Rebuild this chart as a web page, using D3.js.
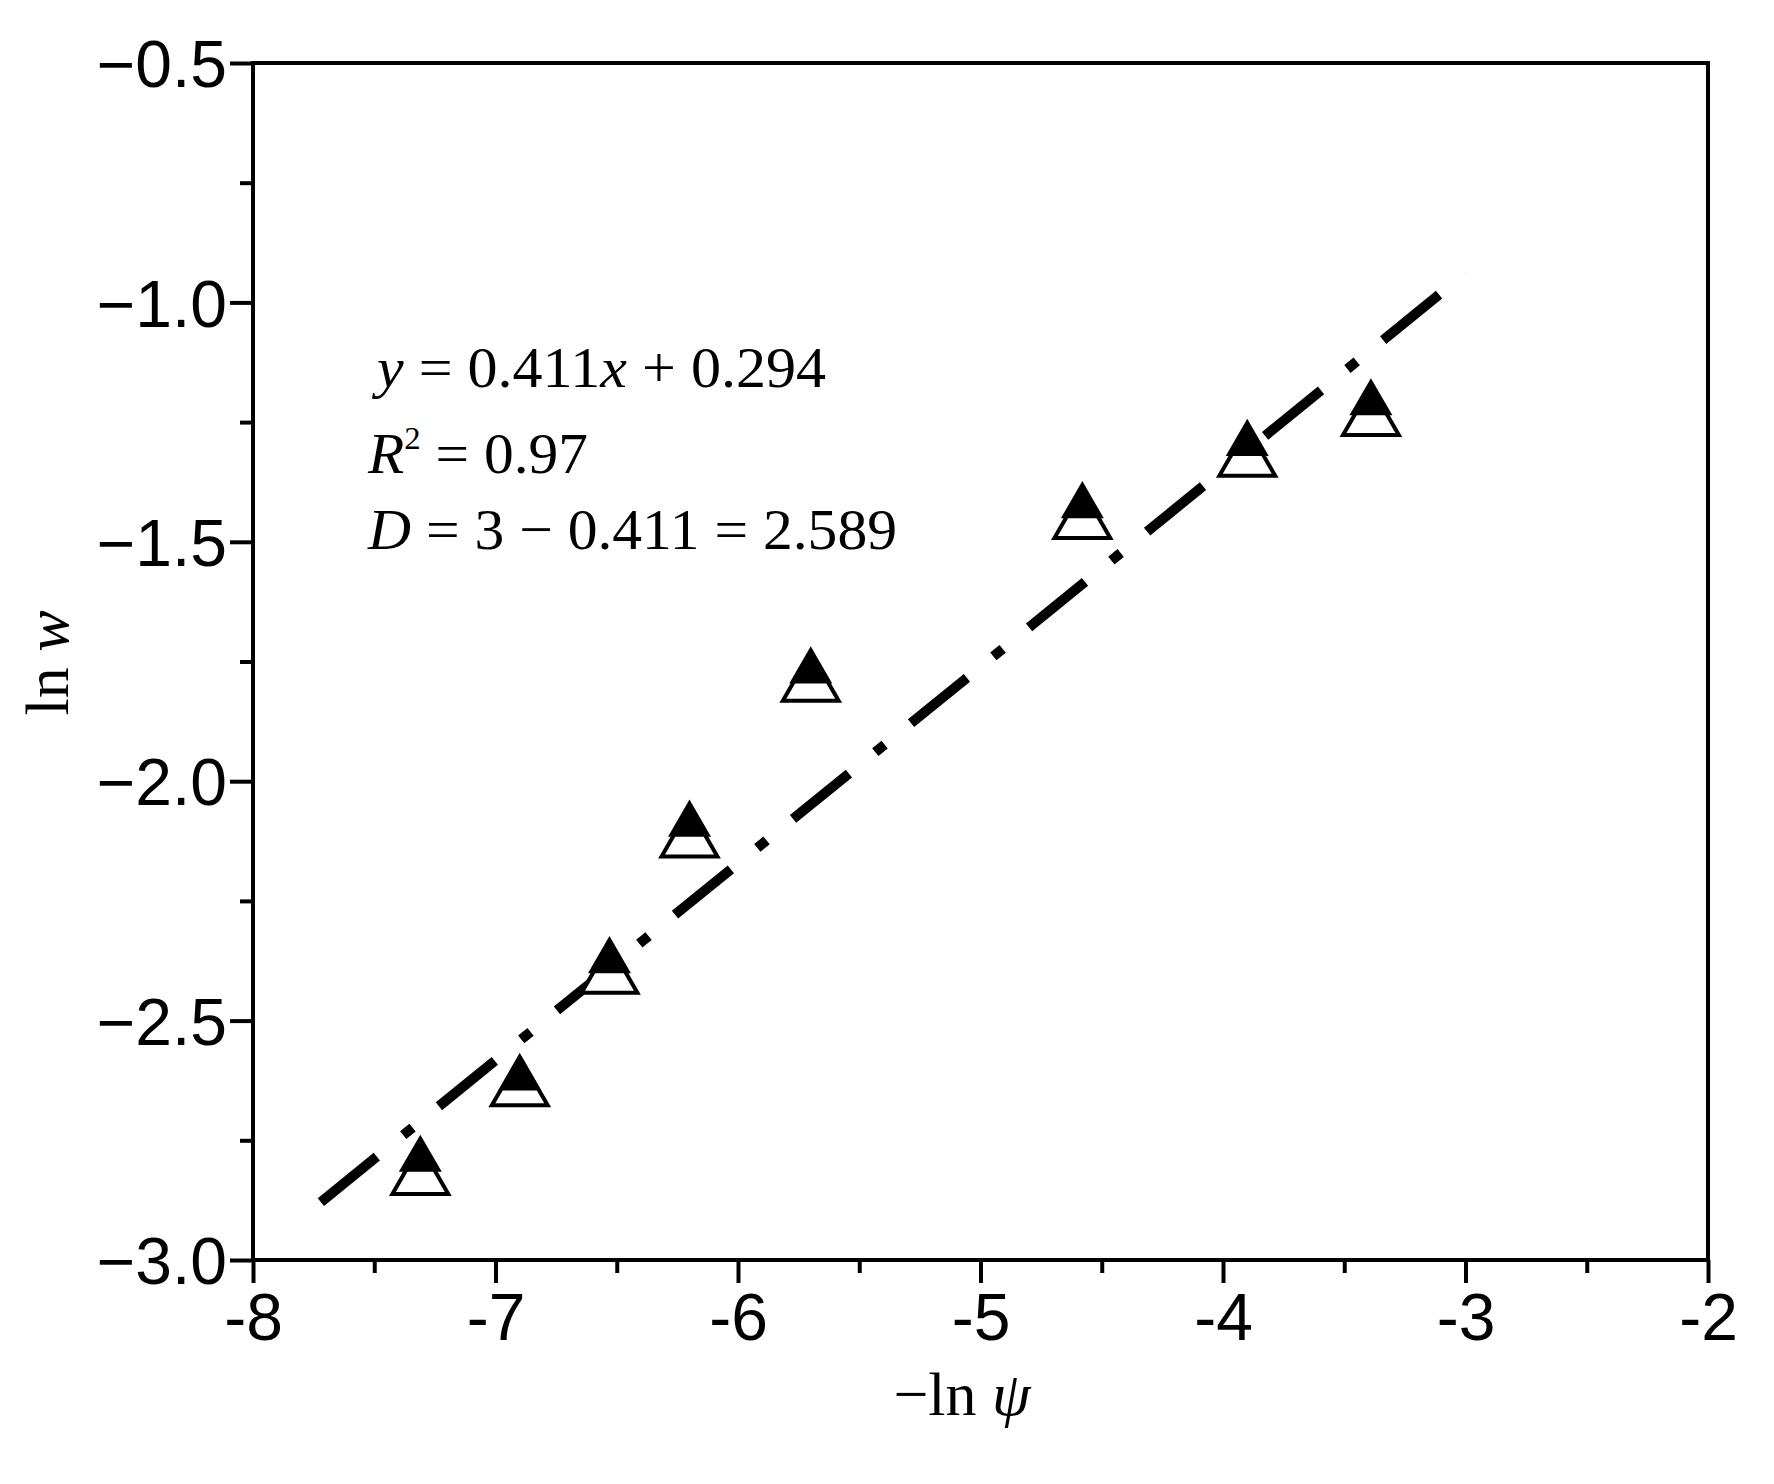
<!DOCTYPE html>
<html><head><meta charset="utf-8">
<script src="https://cdn.jsdelivr.net/npm/d3@7"></script>
<style>body{margin:0;background:#fff}</style></head>
<body><svg id="c" width="1774" height="1484"></svg>
<script>
const xVals = [-7.31, -6.90, -6.53, -6.20, -5.70, -4.58, -3.90, -3.39];
const filledY = [-2.79, -2.62, -2.375, -2.09, -1.77, -1.425, -1.295, -1.21];
const openY = [-2.82, -2.635, -2.40, -2.115, -1.79, -1.45, -1.32, -1.235];
const fitX = [-7.72, -3.0];
const slope = 0.411, intercept = 0.294;
const xTicks = [-8, -7, -6, -5, -4, -3, -2];
const yTicks = [-3.0, -2.5, -2.0, -1.5, -1.0, -0.5];

const L = 253, R = 1708, T = 63, B = 1260;
const svg = d3.select('#c');
const x = d3.scaleLinear().domain([-8, -2]).range([L, R]);
const y = d3.scaleLinear().domain([-3, -0.5]).range([B, T]);

// frame
svg.append('rect').attr('x', L).attr('y', T).attr('width', R - L).attr('height', B - T)
  .attr('fill', 'none').attr('stroke', '#000').attr('stroke-width', 4);

// minor ticks
const xMinor = d3.range(-7.5, -2, 1);
const yMinor = d3.range(-2.75, -0.5, 0.5);
const gx = svg.append('g').attr('transform', `translate(0,${B})`);
gx.call(d3.axisBottom(x).tickValues(xTicks).tickSize(23).tickFormat(d => d));
gx.append('g').call(d3.axisBottom(x).tickValues(xMinor).tickSize(13).tickFormat(''));
const gy = svg.append('g').attr('transform', `translate(${L},0)`);
gy.call(d3.axisLeft(y).tickValues(yTicks).tickSize(23).tickFormat(d3.format('.1f')));
gy.append('g').call(d3.axisLeft(y).tickValues(yMinor).tickSize(13).tickFormat(''));
svg.selectAll('.domain').remove();
svg.selectAll('.tick line').attr('stroke', '#000').attr('stroke-width', 4);
gx.selectAll('text').attr('font-family', 'Liberation Sans, Arial').attr('font-size', 66)
  .attr('fill', '#000').attr('dy', '0.71em').attr('y', 33);
gy.selectAll('text').attr('font-family', 'Liberation Sans, Arial').attr('font-size', 66)
  .attr('fill', '#000').attr('x', -26).attr('dy', '0.36em');

// fit line
svg.append('line')
  .attr('x1', x(fitX[0])).attr('y1', y(slope * fitX[0] + intercept))
  .attr('x2', x(fitX[1])).attr('y2', y(slope * fitX[1] + intercept))
  .attr('stroke', '#000').attr('stroke-width', 10)
  .attr('stroke-dasharray', '72 34 12 34');

// markers
const tri = d3.symbol().type(d3.symbolTriangle);
svg.selectAll('.open').data(xVals).join('path')
  .attr('d', tri.size(1350)())
  .attr('transform', (d, i) => `translate(${x(d)},${y(openY[i]) + 4})`)
  .attr('fill', '#fff').attr('stroke', '#000').attr('stroke-width', 4);
svg.selectAll('.fill').data(xVals).join('path')
  .attr('d', tri.size(800)())
  .attr('transform', (d, i) => `translate(${x(d)},${y(filledY[i])})`)
  .attr('fill', '#000');

// annotation
const ann = svg.append('g').attr('font-family', 'Liberation Serif, Times New Roman').attr('font-size', 58).attr('fill', '#000');
const t1 = ann.append('text').attr('x', 377).attr('y', 387).attr('textLength', 449).attr('lengthAdjust', 'spacingAndGlyphs');
t1.append('tspan').attr('font-style', 'italic').text('y');
t1.append('tspan').text(' = 0.411');
t1.append('tspan').attr('font-style', 'italic').text('x');
t1.append('tspan').text(' + 0.294');
const t2 = ann.append('text').attr('x', 368).attr('y', 473).attr('textLength', 220).attr('lengthAdjust', 'spacingAndGlyphs');
t2.append('tspan').attr('font-style', 'italic').text('R');
t2.append('tspan').attr('font-size', 32).attr('dy', -24).text('2');
t2.append('tspan').attr('dy', 24).text(' = 0.97');
const t3 = ann.append('text').attr('x', 368).attr('y', 549).attr('textLength', 529).attr('lengthAdjust', 'spacingAndGlyphs');
t3.append('tspan').attr('font-style', 'italic').text('D');
t3.append('tspan').text(' = 3 − 0.411 = 2.589');

// axis titles
const xt = svg.append('text').attr('x', 962).attr('y', 1415).attr('text-anchor', 'middle')
  .attr('font-family', 'Liberation Serif, Times New Roman').attr('font-size', 62);
xt.append('tspan').text('−ln ');
xt.append('tspan').attr('font-style', 'italic').text('ψ');
const yt = svg.append('text').attr('transform', 'translate(68,663) rotate(-90)').attr('text-anchor', 'middle')
  .attr('font-family', 'Liberation Serif, Times New Roman').attr('font-size', 62);
yt.append('tspan').text('ln ');
yt.append('tspan').attr('font-style', 'italic').text('w');
</script></body></html>
